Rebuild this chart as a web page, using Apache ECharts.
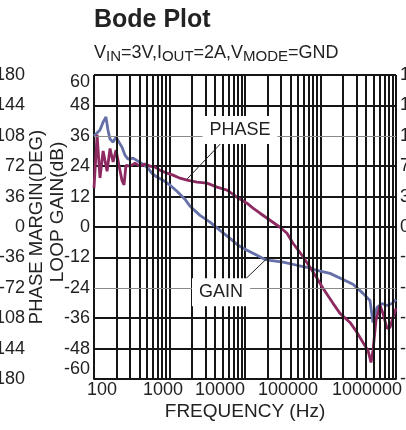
<!DOCTYPE html>
<html><head><meta charset="utf-8">
<script src="https://cdn.jsdelivr.net/npm/echarts@6/dist/echarts.min.js"></script>
<style>html,body{margin:0;padding:0;background:#fff}#c{width:406px;height:430px}</style>
</head><body><div id="c"></div>
<script>
const FONT = '"Liberation Sans", Arial, Helvetica, sans-serif';
const TXT = '#222';

// Loop gain (dB) vs frequency (Hz)
const gainFreq = [100,120,132,144,153,163,179,196,214,235,257,282,329,383,446,519,586,683,820,1016,1256,1603,1870,2535,3439,4667,6330,8075,10620,14420,18410,21440,31870,48850,66250,89920,133600,198700,269300,365500,452600,495600,560000,652700,760000,885000,1000000];
const gainDb   = [35.9,38.3,41.4,43.4,38.3,34.7,33.5,35.5,33.5,31.5,28.4,26.8,27.2,26.0,24.8,23.2,21.2,19.7,18.5,16.5,14.1,11.0,8.2,4.6,1.9,-1.3,-4.5,-7.2,-9.2,-11.2,-12.8,-13.2,-13.9,-15.1,-15.9,-17.1,-18.3,-20.7,-22.6,-26.2,-29.0,-37.7,-31.7,-30.2,-31.0,-30.2,-28.6];

// Phase margin (deg) vs frequency (Hz)
const phaseFreq = [100,110,120,132,149,163,179,196,214,235,250,265,300,349,406,474,552,642,748,927,1112,1377,1706,2313,3138,4258,5778,7834,10620,12760,15810,21440,29090,35990,43250,56890,72630,89920,107900,146500,181300,246000,304300,365500,425700,466700,495600,543300,614000,672900,760000,833000,912000,1000000];
const phaseDeg  = [46,109,58,90,66,93,77,91,73,55,50,73,72.1,75.6,72.1,74.4,72.1,70.9,67.3,63.8,61.4,57.8,55.5,53.1,51.9,47.2,43.6,35.3,28.2,22.3,16.3,8.0,-0.3,-7.4,-19.2,-33.5,-47.7,-60.8,-72.6,-90.4,-102.3,-113,-124.8,-136.7,-146.2,-160.4,-146.2,-110.6,-92.8,-102.3,-120.1,-118.9,-107,-96.3];

const xTickLabels = ['100','1000','10000','100000','1000000'];
const decadeStarts = [100,1000,10000,100000];
const minorMultiples = [2,3,4,5,6,7,8,9];

// callouts
const calloutText = ['PHASE','GAIN'];
const calloutFreq = [8590, 4809];
const calloutDb   = [38.3, -25.8];
const leaderStart = [[5114, 33.9], [8590, -22.6]];
const leaderEnd   = [[1706, 18.9], [19560, -12.4]];

const minorFreqs = [];
decadeStarts.forEach(d => minorMultiples.forEach(m => minorFreqs.push(d * m)));

const GRID = '#151515';
const chart = echarts.init(document.getElementById('c'), null, {renderer: 'canvas'});

const xShift = {x0:[0,0,0,16], x1:[0,13,0,0], x2:[0,50,0,0], x3:[0,65,0,0], x4:[0,58,0,0]};
const xRich = {};
Object.keys(xShift).forEach(k => xRich[k] = {padding: xShift[k], fontSize: 18, fontFamily: FONT, color: TXT});

chart.setOption({
  animation: false,
  backgroundColor: '#fff',
  title: [
    {text: 'Bode Plot', left: 94, top: 5, padding: 0,
     textStyle: {fontFamily: FONT, fontSize: 25, fontWeight: 'bold', color: TXT, lineHeight: 30}},
    {text: '{n|V}{s|IN}{n|=3V,I}{s|OUT}{n|=2A,V}{s|MODE}{n|=GND}', left: 94, top: 42, padding: 0,
     textStyle: {fontWeight: 'normal', rich: {
       n: {fontSize: 18, lineHeight: 22, fontFamily: FONT, fontWeight: 'normal', color: TXT},
       s: {fontSize: 15, lineHeight: 12, verticalAlign: 'bottom', fontFamily: FONT, fontWeight: 'normal', color: TXT}
     }}}
  ],
  grid: {left: 94, right: 10, top: 75, bottom: 51, containLabel: false, outerBoundsMode: 'none'},
  xAxis: {
    type: 'log', logBase: 10, min: 100, max: 1000000,
    name: 'FREQUENCY (Hz)', nameLocation: 'middle', nameGap: 23, nameMoveOverlap: false,
    nameTextStyle: {fontFamily: FONT, fontSize: 19, color: TXT},
    axisLine: {show: true, onZero: false, lineStyle: {color: GRID, width: 2}},
    axisTick: {show: false},
    axisLabel: {margin: 2, fontFamily: FONT, fontSize: 18, color: TXT, hideOverlap: false,
      showMinLabel: true, showMaxLabel: true,
      formatter: (v, i) => '{x' + i + '|' + (xTickLabels[i] !== undefined ? xTickLabels[i] : v) + '}',
      rich: xRich},
    splitLine: {show: true, lineStyle: {color: GRID, width: 2}}
  },
  yAxis: [
    {type: 'value', min: -60, max: 60, interval: 12, position: 'left',
     name: 'LOOP GAIN(dB)', nameLocation: 'middle', nameGap: 27, nameRotate: 90, nameMoveOverlap: false,
     nameTextStyle: {fontFamily: FONT, fontSize: 19, color: TXT, padding: [0, 0, 0, 30]},
     axisLine: {show: false}, axisTick: {show: false},
     axisLabel: {margin: 4, fontFamily: FONT, fontSize: 18, color: TXT,
       formatter: v => (v === 60 ? '{t|' + v + '}' : (v === -60 ? '{b|' + v + '}' : '{m|' + v + '}')),
       rich: {t: {padding: [14,0,0,0], fontSize: 18, fontFamily: FONT, color: TXT},
              b: {padding: [0,0,20,0], fontSize: 18, fontFamily: FONT, color: TXT},
              m: {fontSize: 18, fontFamily: FONT, color: TXT}}},
     splitLine: {show: true, lineStyle: {width: 2,
       color: [GRID, GRID, GRID, 'rgba(0,0,0,0)', GRID, GRID, GRID, GRID, 'rgba(0,0,0,0)', GRID, GRID]}}},
    {type: 'value', min: -180, max: 180, interval: 36, position: 'left',
     name: 'PHASE MARGIN(DEG)', nameLocation: 'middle', nameGap: 48, nameRotate: 90, nameMoveOverlap: false,
     nameTextStyle: {fontFamily: FONT, fontSize: 18.5, color: TXT},
     axisLine: {show: false}, axisTick: {show: false},
     axisLabel: {margin: 69, fontFamily: FONT, fontSize: 18, color: TXT, padding: [0, 0, 14, 0]},
     splitLine: {show: false}},
    {type: 'value', min: -180, max: 180, interval: 36, position: 'right',
     axisLine: {show: false}, axisTick: {show: false},
     axisLabel: {margin: 4, fontFamily: FONT, fontSize: 18, color: TXT, padding: [0, 0, 16, 0]},
     splitLine: {show: false}}
  ],
  series: [
    {name: 'grid', type: 'line', data: [], z: 1, silent: true,
     markLine: {silent: true, symbol: ['none', 'none'], animation: false,
       label: {show: false},
       lineStyle: {color: GRID, width: 2, type: 'solid'},
       data: minorFreqs.map(f => ({xAxis: f}))
         .concat([{yAxis: 36, lineStyle: {color: '#8a8a8a', width: 1, type: 'solid'}},
                  {yAxis: -24, lineStyle: {color: '#8a8a8a', width: 1, type: 'solid'}}])}},
    {name: 'GAIN', type: 'line', yAxisIndex: 0, z: 3, symbol: 'none', silent: true,
     lineStyle: {color: '#6670a8', width: 2.8}, itemStyle: {color: '#6670a8'},
     data: gainFreq.map((f, i) => [f, gainDb[i]])},
    {name: 'PHASE', type: 'line', yAxisIndex: 1, z: 3, symbol: 'none', silent: true,
     lineStyle: {color: '#8e2a62', width: 2.8}, itemStyle: {color: '#8e2a62'},
     data: phaseFreq.map((f, i) => [f, phaseDeg[i]])},
    {name: 'callouts', type: 'scatter', yAxisIndex: 0, z: 5, silent: true,
     symbolSize: 1, itemStyle: {color: '#fff', opacity: 1},
     label: {show: true, position: 'inside', formatter: '{b}', fontFamily: FONT, fontSize: 18,
       color: TXT, opacity: 1, textBorderWidth: 0, backgroundColor: '#fff', padding: [4, 7, 4, 7], lineHeight: 20},
     data: calloutText.map((t, i) => ({name: t, value: [calloutFreq[i], calloutDb[i]]})),
     markLine: {silent: true, symbol: ['none', 'none'], label: {show: false},
       lineStyle: {color: '#222', width: 1, type: 'solid'},
       data: leaderStart.map((s, i) => [{coord: s}, {coord: leaderEnd[i]}])}}
  ]
});
</script></body></html>
